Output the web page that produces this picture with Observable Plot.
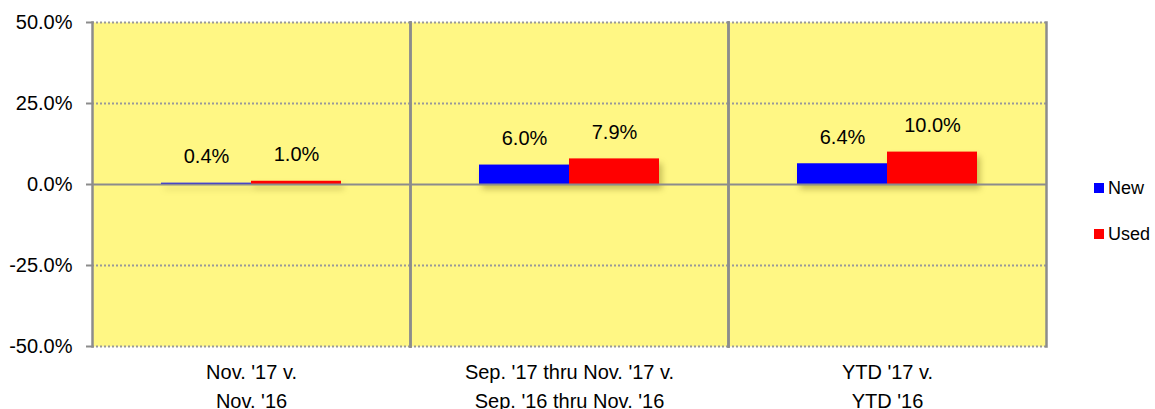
<!DOCTYPE html>
<html>
<head>
<meta charset="utf-8">
<script src="https://cdn.jsdelivr.net/npm/d3@7"></script>
<script src="https://cdn.jsdelivr.net/npm/@observablehq/plot@0.6"></script>
<style>
  html, body { margin: 0; padding: 0; background: #fff; }
  #wrap { position: relative; width: 1155px; height: 409px; overflow: hidden; }
  #legend { position: absolute; left: 1094px; top: 176px; font-family: "Liberation Sans", Arial, sans-serif; font-size: 18px; color: #000; }
  .item { display: flex; align-items: center; height: 24px; margin-bottom: 22px; }
  .sw { width: 10px; height: 10px; margin-right: 4px; }
</style>
</head>
<body>
<div id="wrap"><div id="legend"></div></div>
<script>
const categories = ["Nov. '17 v.\nNov. '16", "Sep. '17 thru Nov. '17 v.\nSep. '16 thru Nov. '16", "YTD '17 v.\nYTD '16"];
const series = ["New", "Used"];
const newValues = [0.4, 6.0, 6.4];
const usedValues = [1.0, 7.9, 10.0];
const seriesColors = ["#0000ff", "#ff0000"];
const yTicks = [50, 25, 0, -25, -50];
const gridTicks = [50, 25, -25, -50];

const data = [];
categories.forEach((c, i) => {
  data.push({category: c, series: "New", value: newValues[i]});
  data.push({category: c, series: "Used", value: usedValues[i]});
});

const gray = "#8c8c8c";
const plot = Plot.plot({
  width: 1155,
  height: 409,
  marginLeft: 92,
  marginRight: 109,
  marginTop: 22,
  marginBottom: 63,
  style: {fontFamily: "'Liberation Sans', Arial, sans-serif", background: "transparent"},
  fx: {domain: categories, padding: 0, label: null},
  x: {domain: series, paddingInner: 0, paddingOuter: 0.75, axis: null},
  y: {domain: [-50, 50], label: null},
  color: {domain: series, range: seriesColors},
  marks: [
    Plot.frame({fill: "#fff784", stroke: "none"}),
    Plot.ruleY(gridTicks, {stroke: "#999", strokeWidth: 2, strokeDasharray: "2,2"}),
    Plot.barY(data, {fx: "category", x: "series", y: "value", fill: "series",
      imageFilter: "drop-shadow(3px 5px 3px rgba(90,80,0,0.35))"}),
    Plot.ruleY([0], {stroke: gray, strokeWidth: 2}),
    Plot.frame({anchor: "left", stroke: gray, strokeWidth: 2.5}),
    Plot.frame({anchor: "right", stroke: gray, strokeWidth: 2.5}),
    Plot.text(data, {fx: "category", x: "series", y: "value", text: d => d.value.toFixed(1) + "%",
      lineAnchor: "bottom", dy: -20, fontSize: 20, fill: "#000"}),
    Plot.axisY({ticks: yTicks, tickFormat: d => d.toFixed(1) + "%", tickSize: 6, tickPadding: 14,
      fontSize: 20, stroke: gray, strokeWidth: 2, fill: "#000", label: null}),
    Plot.axisFx({anchor: "bottom", tickSize: 0, tickPadding: 12, fontSize: 20, lineHeight: 1.45,
      fill: "#000", label: null})
  ]
});

document.getElementById("wrap").prepend(plot);

const legend = d3.select("#legend");
series.forEach((s, i) => {
  const it = legend.append("div").attr("class", "item");
  it.append("div").attr("class", "sw").style("background", seriesColors[i]);
  it.append("span").text(s);
});
</script>
</body>
</html>
